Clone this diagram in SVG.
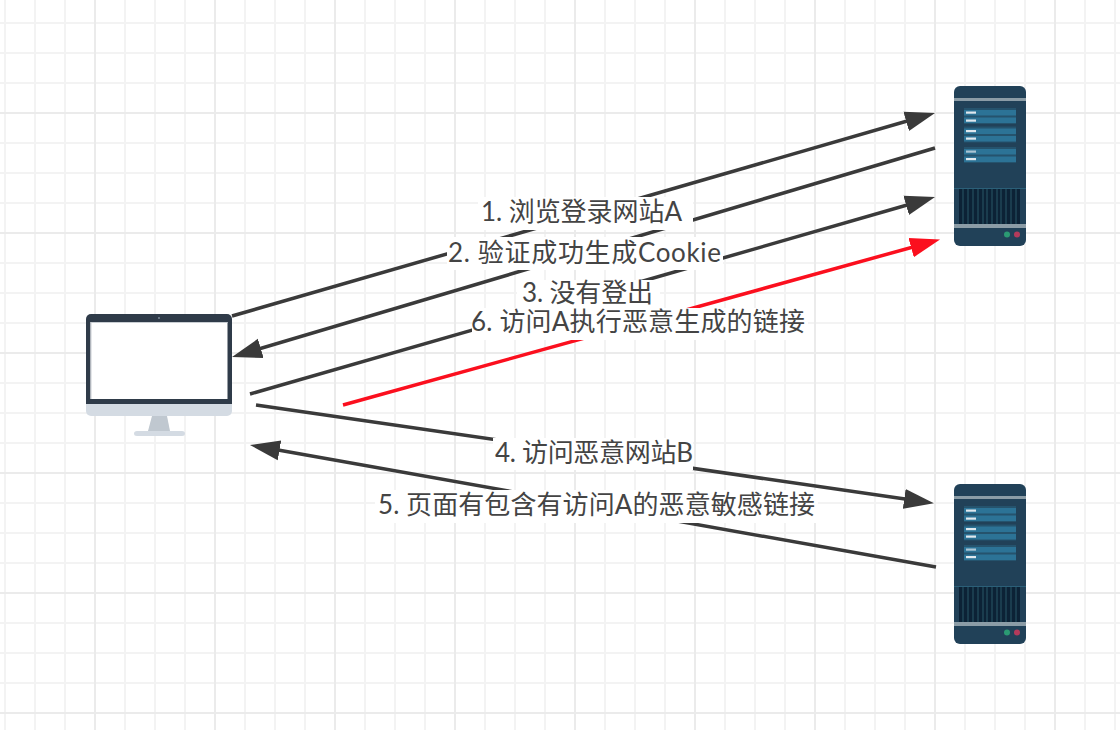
<svg xmlns="http://www.w3.org/2000/svg" width="1120" height="730" viewBox="0 0 1120 730">
<style>
.ln{fill:none;stroke:#3a3a3a;stroke-width:3.5}
.red{stroke:#fb0f1e}
.bg{fill:#fff}
.lb{font-family:"Lato","Noto Sans CJK SC",sans-serif;font-size:26px;fill:#444}
.row{fill:#2c7396}
.wh{fill:#dfe8ee}
.vent{fill:#0c2236}
.vs{stroke:#1f4557;stroke-width:1.5}
</style>
<defs>
<pattern id="grid" x="-26" y="-8" width="120" height="120" patternUnits="userSpaceOnUse">
<path d="M31 0V120M61 0V120M91 0V120M0 31H120M0 61H120M0 91H120" stroke="#f3f3f3" stroke-width="2" fill="none"/>
<path d="M1 0V120M0 1H120" stroke="#ebebeb" stroke-width="2" fill="none"/>
</pattern>
<marker id="ah" markerUnits="userSpaceOnUse" markerWidth="32" markerHeight="24" viewBox="0 0 32 24" refX="20" refY="12" orient="auto"><path d="M0 2L30 12L0 22Z" fill="#3a3a3a"/></marker>
<marker id="ahr" markerUnits="userSpaceOnUse" markerWidth="32" markerHeight="24" viewBox="0 0 32 24" refX="20" refY="12" orient="auto"><path d="M0 2L30 12L0 22Z" fill="#fb0f1e"/></marker>
<g id="srv">
<rect x="0" y="0" width="72" height="160" rx="6" fill="#214158"/>
<rect x="0" y="12" width="72" height="3" fill="#8b9ca6"/>
<rect x="10" y="22" width="52" height="16" fill="#25536d"/><rect x="10" y="40.500" width="52" height="16" fill="#25536d"/><rect x="10" y="61" width="52" height="16" fill="#25536d"/>
<rect class="row" x="10" y="24" width="52" height="5.500"/><rect class="row" x="10" y="31.500" width="52" height="5.500"/>
<rect class="row" x="10" y="42.500" width="52" height="5.500"/><rect class="row" x="10" y="50" width="52" height="5.500"/>
<rect class="row" x="10" y="63" width="52" height="5.500"/><rect class="row" x="10" y="70.500" width="52" height="5.500"/>
<rect class="wh" x="12" y="25.500" width="10" height="2.200"/><rect class="wh" x="12" y="33.500" width="10" height="2.200"/>
<rect class="wh" x="12" y="44" width="10" height="2.200"/><rect class="wh" x="12" y="51.500" width="10" height="2.200"/>
<rect class="wh" x="12" y="64.500" width="10" height="2.200" opacity=".7"/><rect class="wh" x="12" y="72" width="10" height="2.200"/>
<rect x="0" y="102" width="72" height="1" fill="#2b5f78"/>
<rect class="vent" x="5" y="103" width="61" height="35"/>
<path class="vs" d="M9 103V138M14 103V138M19 103V138M24 103V138M29 103V138M33 103V138M38 103V138M43 103V138M47 103V138M52 103V138M57 103V138M62 103V138"/>
<rect x="0" y="138" width="72" height="4" fill="#8b9ca6"/>
<circle cx="53" cy="148.500" r="3" fill="#2b9a73"/>
<circle cx="63" cy="148.500" r="3" fill="#b33a5b"/>
</g>
</defs>
<rect width="1120" height="730" fill="#fff"/>
<rect width="1120" height="730" fill="url(#grid)"/>
<g id="browser">
<path d="M86 404H232V411a5 5 0 0 1-5 5H91a5 5 0 0 1-5-5Z" fill="#d4dbe3"/>
<path d="M91 314H227a5 5 0 0 1 5 5V404H86V319a5 5 0 0 1 5-5Z" fill="#2f3b49"/>
<rect x="90.500" y="322" width="137" height="77" fill="#fff"/>
<path d="M90.500 322H227.500V323H91.500V399H90.500Z" fill="#c9ced3"/>
<circle cx="159" cy="318" r="1" fill="#7c8a97"/>
<path d="M152 416H167L170 431H148Z" fill="#c0c8d0"/>
<path d="M137 431H182a3 2.500 0 0 1 0 5H137a3 2.500 0 0 1 0-5Z" fill="#d4dbe3"/>
</g>
<g id="serverA"><use href="#srv" x="954" y="86"/></g>
<g id="serverB"><use href="#srv" x="954" y="484"/></g>
<g id="connectors">
<path class="ln" d="M232 316L925.400 115.800" marker-end="url(#ah)"/>
<path class="ln" d="M935 148L241.600 354.100" marker-end="url(#ah)"/>
<path class="ln" d="M250 394L925.400 199.800" marker-end="url(#ah)"/>
<path class="ln red" d="M343 405L930.400 242.200" marker-end="url(#ahr)"/>
<path class="ln" d="M256 405L924 501.800" marker-end="url(#ah)"/>
<path class="ln" d="M936 567L259.800 446.800" marker-end="url(#ah)"/>
<rect class="bg" x="478" y="197" width="215" height="33"/>
<rect class="bg" x="447" y="237" width="276" height="33"/>
<rect class="bg" x="517" y="280" width="143" height="32"/>
<rect class="bg" x="472" y="308" width="336" height="32"/>
<rect class="bg" x="493" y="438" width="200" height="32"/>
<rect class="bg" x="375" y="490" width="443" height="33"/>
<text class="lb" x="481" y="221" textLength="201">1. 浏览登录网站A</text>
<text class="lb" x="448" y="262" textLength="273">2. 验证成功生成Cookie</text>
<text class="lb" x="522" y="302" textLength="131">3. 没有登出</text>
<text class="lb" x="471" y="331" textLength="334">6. 访问A执行恶意生成的链接</text>
<text class="lb" x="495" y="462" textLength="198">4. 访问恶意网站B</text>
<text class="lb" x="378" y="514" textLength="437">5. 页面有包含有访问A的恶意敏感链接</text>
</g>
</svg>
